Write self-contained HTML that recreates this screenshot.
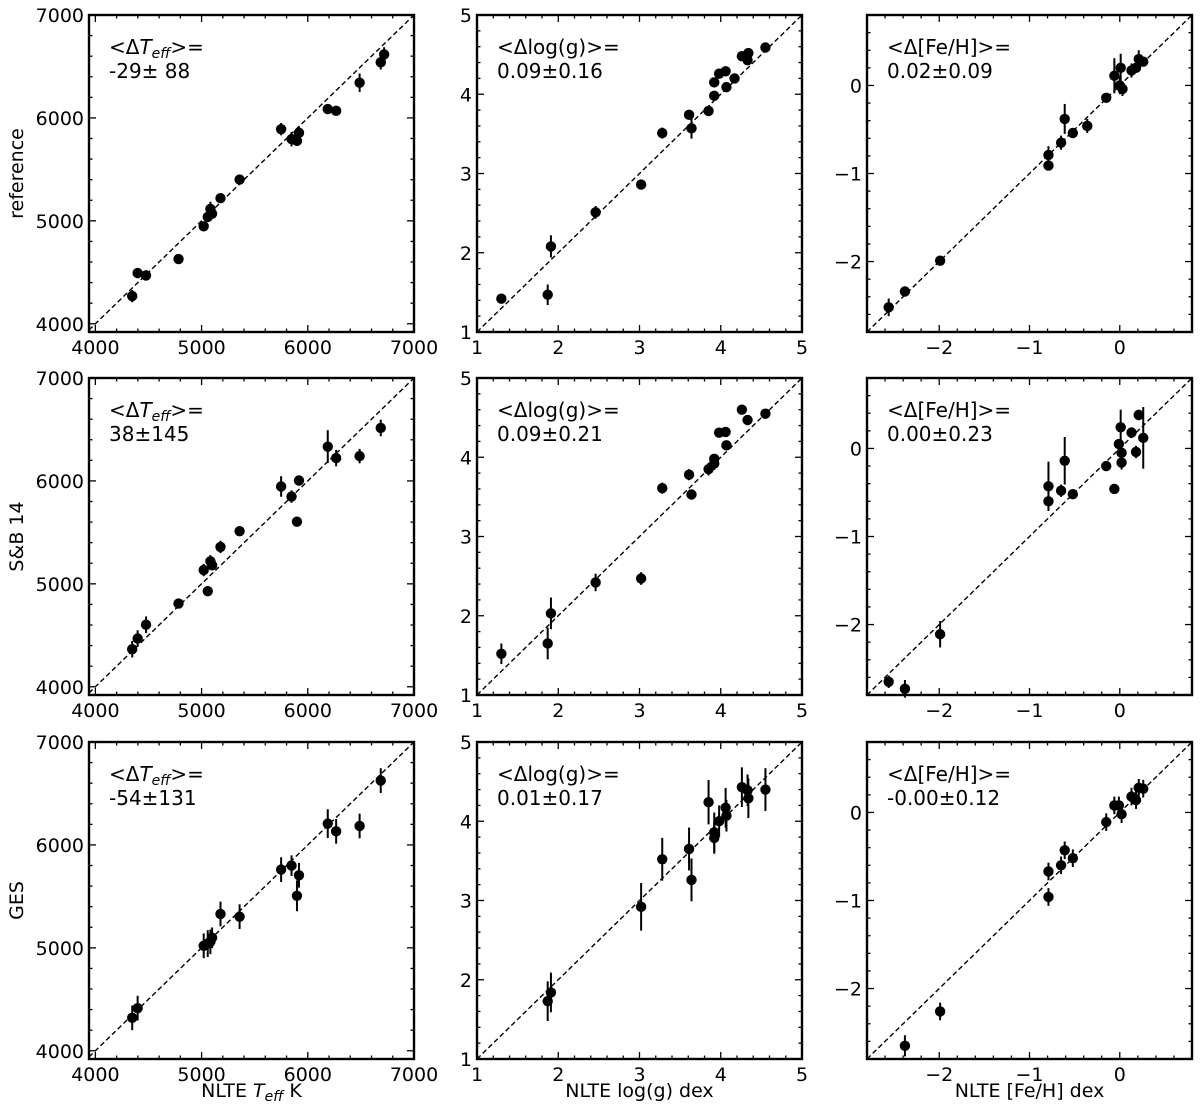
<!DOCTYPE html>
<html><head><meta charset="utf-8"><style>
body{margin:0;background:#fff}
svg{display:block;font-family:"DejaVu Sans","Liberation Sans",sans-serif}
</style></head><body>
<svg id="fig" width="1200" height="1116" viewBox="0 0 1200 1116" xmlns="http://www.w3.org/2000/svg"></svg>
<script>
// ---- data (NLTE value, comparison value, error) ----
const refTeffX=[4347,4398,4477,4783,5020,5058,5083,5099,5178,5358,5749,5847,5898,5917,6188,6267,6488,6687,6719];
const refTeffY=[4269,4493,4470,4629,4947,5038,5116,5070,5220,5401,5891,5794,5777,5855,6086,6069,6342,6540,6617];
const refTeffE=[60,50,50,30,30,30,70,40,30,30,60,70,40,60,30,30,90,70,70];
const refLoggX=[1.30,1.87,1.91,2.46,3.02,3.28,3.61,3.64,3.85,3.92,3.92,3.98,4.06,4.07,4.17,4.26,4.33,4.34,4.55];
const refLoggY=[1.42,1.47,2.08,2.51,2.86,3.51,3.74,3.57,3.79,3.98,4.15,4.26,4.29,4.09,4.20,4.48,4.43,4.52,4.59];
const refLoggE=[0.03,0.13,0.14,0.08,0.03,0.07,0.03,0.13,0.03,0.03,0.03,0.03,0.03,0.03,0.03,0.03,0.03,0.03,0.03];
const refFehX=[-2.56,-2.38,-1.99,-0.79,-0.79,-0.65,-0.61,-0.52,-0.36,-0.15,-0.06,0.00,0.01,0.03,0.13,0.18,0.21,0.26];
const refFehY=[-2.52,-2.34,-1.99,-0.91,-0.79,-0.65,-0.38,-0.54,-0.46,-0.14,0.11,0.00,0.20,-0.04,0.17,0.20,0.30,0.27];
const refFehE=[0.1,0.03,0.03,0.03,0.1,0.08,0.17,0.03,0.08,0.05,0.2,0.1,0.16,0.08,0.08,0.05,0.1,0.05];

const sbTeffX=[4347,4398,4477,4783,5020,5058,5083,5099,5178,5358,5749,5847,5898,5917,6188,6267,6488,6687];
const sbTeffY=[4365,4469,4603,4808,5134,4929,5219,5180,5359,5512,5946,5848,5604,6004,6333,6222,6241,6515];
const sbTeffE=[80,80,80,30,60,30,60,30,60,30,100,60,30,30,160,80,70,80];
const sbLoggX=[1.30,1.87,1.91,2.46,3.02,3.28,3.61,3.64,3.85,3.92,3.92,3.98,4.06,4.07,4.26,4.33,4.55];
const sbLoggY=[1.52,1.65,2.03,2.42,2.47,3.61,3.78,3.53,3.85,3.92,3.98,4.31,4.32,4.15,4.60,4.47,4.55];
const sbLoggE=[0.13,0.2,0.2,0.11,0.08,0.07,0.07,0.03,0.08,0.08,0.06,0.03,0.06,0.03,0.03,0.03,0.03];
const sbFehX=[-2.56,-2.38,-1.99,-0.79,-0.79,-0.65,-0.61,-0.52,-0.15,-0.06,-0.01,0.01,0.02,0.02,0.13,0.18,0.21,0.26];
const sbFehY=[-2.65,-2.73,-2.11,-0.60,-0.43,-0.48,-0.14,-0.52,-0.20,-0.46,0.05,0.24,-0.05,-0.16,0.18,-0.04,0.38,0.12];
const sbFehE=[0.07,0.1,0.15,0.1,0.28,0.07,0.27,0.03,0.03,0.03,0.05,0.2,0.05,0.08,0.06,0.07,0.06,0.35];

const gesTeffX=[4347,4398,5020,5058,5083,5099,5178,5358,5749,5847,5898,5917,6188,6267,6488,6687];
const gesTeffY=[4320,4414,5020,5042,5059,5098,5329,5303,5760,5799,5506,5705,6207,6132,6184,6625];
const gesTeffE=[120,120,120,130,120,100,120,120,120,100,150,120,140,120,120,120];
const gesLoggX=[1.87,1.91,3.02,3.28,3.61,3.64,3.85,3.92,3.92,3.98,4.06,4.07,4.26,4.33,4.34,4.55];
const gesLoggY=[1.73,1.84,2.92,3.52,3.65,3.26,4.24,3.86,3.79,4.00,4.17,4.07,4.43,4.39,4.29,4.40];
const gesLoggE=[0.25,0.25,0.3,0.27,0.27,0.27,0.28,0.25,0.2,0.2,0.25,0.2,0.25,0.2,0.25,0.27];
const gesFehX=[-2.38,-1.99,-0.79,-0.79,-0.65,-0.61,-0.52,-0.15,-0.06,-0.01,0.02,0.13,0.18,0.21,0.26];
const gesFehY=[-2.65,-2.26,-0.96,-0.67,-0.60,-0.43,-0.52,-0.11,0.08,0.08,-0.02,0.18,0.14,0.28,0.27];
const gesFehE=[0.12,0.1,0.1,0.1,0.1,0.1,0.1,0.1,0.1,0.1,0.1,0.1,0.1,0.1,0.1];

const rowLabels=["reference","S&B 14","GES"];
const annTeff=["-29\u00b1 88"," 38\u00b1145","-54\u00b1131"];
const annLogg=["0.09\u00b10.16","0.09\u00b10.21","0.01\u00b10.17"];
const annFeh=["0.02\u00b10.09","0.00\u00b10.23","-0.00\u00b10.12"];
const teffTicks=[4000,5000,6000,7000];
const loggTicks=[1,2,3,4,5];
const fehTicks=[-2,-1,0];

const NS="http://www.w3.org/2000/svg";
const svg=document.getElementById('fig');
function mk(tag,attrs,parent){const e=document.createElementNS(NS,tag);for(const k in attrs)e.setAttribute(k,attrs[k]);(parent||svg).appendChild(e);return e;}

const colL=[89,477,867], rowT=[15,378,742], W=325, H=317;
const cols=[
 {dom:[3940,7000],ydom:[3920,7000],ticks:teffTicks,minor:200,fmt:v=>String(v),key:'teff'},
 {dom:[1,5],ydom:[1,5],ticks:loggTicks,minor:0.2,fmt:v=>String(v),key:'logg'},
 {dom:[-2.8,0.8],ydom:[-2.8,0.8],ticks:fehTicks,minor:0.2,fmt:v=>v<0?'\u2212'+(-v):String(v),key:'feh'}
];
const data=[
 [[refTeffX,refTeffY,refTeffE],[refLoggX,refLoggY,refLoggE],[refFehX,refFehY,refFehE]],
 [[sbTeffX,sbTeffY,sbTeffE],[sbLoggX,sbLoggY,sbLoggE],[sbFehX,sbFehY,sbFehE]],
 [[gesTeffX,gesTeffY,gesTeffE],[gesLoggX,gesLoggY,gesLoggE],[gesFehX,gesFehY,gesFehE]]
];
const anns=[annTeff,annLogg,annFeh];
const annHead=['teff','<\u0394log(g)>=','<\u0394[Fe/H]>='];

for(let r=0;r<3;r++){for(let c=0;c<3;c++){
 const cf=cols[c], L=colL[c], T=rowT[r];
 const sx=v=>L+(v-cf.dom[0])/(cf.dom[1]-cf.dom[0])*W;
 const sy=v=>T+H-(v-cf.ydom[0])/(cf.ydom[1]-cf.ydom[0])*H;
 const g=mk('g',{});
 
 
 for(let v=Math.ceil(cf.dom[0]/cf.minor-1e-9)*cf.minor; v<=cf.dom[1]+1e-9; v+=cf.minor){
  const isMaj=cf.ticks.some(t=>Math.abs(t-v)<1e-6);const len=isMaj?7:3.5;const x=sx(v);
  mk('line',{x1:x,y1:T+H,x2:x,y2:T+H-len,stroke:'#000','stroke-width':1.3},g);
  mk('line',{x1:x,y1:T,x2:x,y2:T+len,stroke:'#000','stroke-width':1.3},g);
 }
 for(let v=Math.ceil(cf.ydom[0]/cf.minor-1e-9)*cf.minor; v<=cf.ydom[1]+1e-9; v+=cf.minor){
  const isMaj=cf.ticks.some(t=>Math.abs(t-v)<1e-6);const len=isMaj?7:3.5;const y=sy(v);
  mk('line',{x1:L,y1:y,x2:L+len,y2:y,stroke:'#000','stroke-width':1.3},g);
  mk('line',{x1:L+W,y1:y,x2:L+W-len,y2:y,stroke:'#000','stroke-width':1.3},g);
 }
 cf.ticks.forEach(t=>{
  const tx=mk('text',{x:sx(t),y:T+H+22,'font-size':19,'text-anchor':'middle'},g);tx.textContent=cf.fmt(t);
  
  const ty=mk('text',{x:L-5,y:sy(t)+7,'font-size':19,'text-anchor':'end'},g);ty.textContent=cf.fmt(t);
  
 });
 const d0=Math.max(cf.dom[0],cf.ydom[0]), d1=Math.min(cf.dom[1],cf.ydom[1]);
 const dl=mk('line',{x1:sx(d0),y1:sy(d0),x2:sx(d1),y2:sy(d1),stroke:'#000','stroke-width':1.4,'stroke-dasharray':'5,3'},g);
 
 const [xs,ys,es]=data[r][c];
 xs.forEach((xv,i)=>{
  const eb=mk('line',{x1:sx(xv),y1:sy(ys[i]-es[i]),x2:sx(xv),y2:sy(ys[i]+es[i]),stroke:'#000','stroke-width':2},g);
  
  const p=mk('circle',{cx:sx(xv),cy:sy(ys[i]),r:5.2,fill:'#000'},g);
  
 });
 const fr=mk('rect',{x:L,y:T,width:W,height:H,fill:'none',stroke:'#000','stroke-width':2.4},g);
 
 const a=mk('text',{x:L+20,y:T+39,'font-size':20},g);
 
 if(c===0){
  a.appendChild(document.createTextNode('<\u0394'));
  const ti=mk('tspan',{'font-style':'italic'},a);ti.textContent='T';
  const ts=mk('tspan',{'font-style':'italic','font-size':14,dy:4},a);ts.textContent='eff';
  const te=mk('tspan',{dy:-4},a);te.textContent='>=';
 } else a.textContent=annHead[c];
 const a2=mk('text',{x:L+20,y:T+63,'font-size':20},g);a2.textContent=anns[c][r];
 
}
 const rl=mk('text',{x:0,y:0,'font-size':19,'text-anchor':'middle',transform:`translate(23,${rowT[r]+H/2}) rotate(-90)`});
 rl.textContent=rowLabels[r];
 
}
const xt1=mk('text',{x:colL[0]+W/2,y:1097,'font-size':19,'text-anchor':'middle'});

xt1.appendChild(document.createTextNode('NLTE '));
const xi=mk('tspan',{'font-style':'italic'},xt1);xi.textContent='T';
const xs2=mk('tspan',{'font-style':'italic','font-size':14,dy:4},xt1);xs2.textContent='eff';
const xk=mk('tspan',{dy:-4},xt1);xk.textContent=' K';
const xt2=mk('text',{x:colL[1]+W/2,y:1097,'font-size':19,'text-anchor':'middle'});xt2.textContent='NLTE log(g) dex';

const xt3=mk('text',{x:colL[2]+W/2,y:1097,'font-size':19,'text-anchor':'middle'});xt3.textContent='NLTE [Fe/H] dex';

</script>
</body></html>
